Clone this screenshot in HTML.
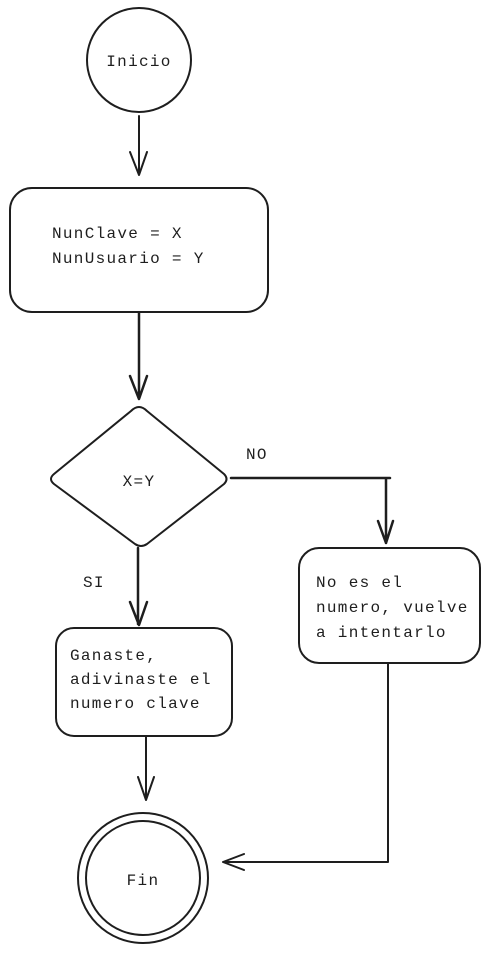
<!DOCTYPE html>
<html><head><style>
body{margin:0;background:#fff;}
svg text{font-family:"Liberation Mono",monospace;font-size:16px;letter-spacing:1.3px;fill:#1e1e1e;}
</style></head><body>
<svg width="490" height="954" viewBox="0 0 490 954" xmlns="http://www.w3.org/2000/svg" fill="none" stroke="#1e1e1e" stroke-width="2" stroke-linecap="round" stroke-linejoin="round">
<circle cx="139" cy="60" r="52"/>
<text x="139" y="66" text-anchor="middle" stroke="none">Inicio</text>
<path d="M139 116 V174 M130 152 L139 175 L147 152"/>
<rect x="10" y="188" width="258" height="124" rx="22"/>
<text x="52" y="238" stroke="none">NunClave = X</text>
<text x="52" y="263" stroke="none">NunUsuario = Y</text>
<path d="M139 313 V398 M130 376 L139 399 L147 376" stroke-width="2.5"/>
<path d="M139 407 Q143 407 147 411 L224 474 Q229 479 224 484 L147 544 Q141 548 135 544 L54 484 Q48 479 54 474 L131 411 Q135 407 139 407 Z"/>
<text x="139" y="486" text-anchor="middle" stroke="none">X=Y</text>
<text x="246" y="459" stroke="none">NO</text>
<path d="M231 478 H390 M386 478 V543 M378 521 L386 543 L393 521" stroke-width="2.5"/>
<rect x="299" y="548" width="181" height="115" rx="20"/>
<text x="316" y="587" stroke="none">No es el</text>
<text x="316" y="612" stroke="none">numero, vuelve</text>
<text x="316" y="637" stroke="none">a intentarlo</text>
<text x="83" y="587" stroke="none">SI</text>
<path d="M138 548 V624 M130 602 L139 625 L147 602" stroke-width="2.5"/>
<rect x="56" y="628" width="176" height="108" rx="18"/>
<text x="70" y="660" stroke="none">Ganaste,</text>
<text x="70" y="684" stroke="none">adivinaste el</text>
<text x="70" y="708" stroke="none">numero clave</text>
<path d="M146 737 V799 M138 777 L146 800 L154 777"/>
<circle cx="143" cy="878" r="65"/>
<circle cx="143" cy="878" r="57"/>
<text x="143" y="885" text-anchor="middle" stroke="none">Fin</text>
<path d="M388 664 V862 H223 M244 854 L223 862 L244 870"/>
</svg>
</body></html>
